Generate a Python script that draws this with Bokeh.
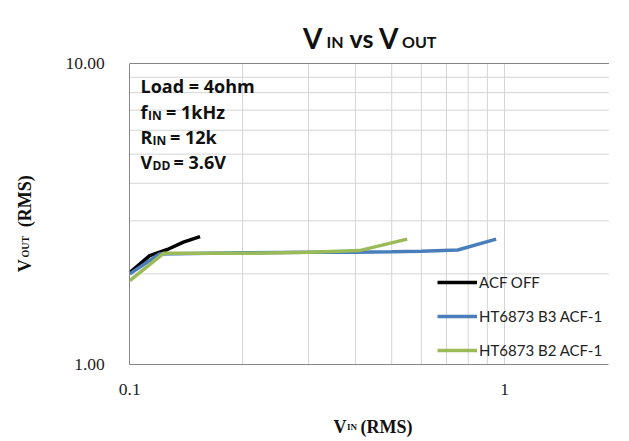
from bokeh.plotting import figure
from bokeh.models import (FixedTicker, CustomJSTickFormatter, Label, Legend, LegendItem)
from bokeh.embed import file_html
from bokeh.resources import INLINE
import math

# ---- data ----
acf_off_x = [0.100, 0.113, 0.126, 0.139, 0.154]
acf_off_y = [2.02, 2.30, 2.41, 2.55, 2.66]

b3_x = [0.100, 0.120, 0.200, 0.300, 0.400, 0.500, 0.600, 0.750, 0.950]
b3_y = [2.00, 2.33, 2.35, 2.36, 2.36, 2.37, 2.38, 2.40, 2.61]

b2_x = [0.100, 0.123, 0.200, 0.300, 0.410, 0.550]
b2_y = [1.90, 2.34, 2.34, 2.36, 2.39, 2.61]

series_names = ["ACF OFF", "HT6873 B3 ACF-1", "HT6873 B2 ACF-1"]
series_colors = ["#000000", "#4A7EBB", "#9BBB59"]

x_min, x_max = 0.1, 1.9
y_min, y_max = 1.0, 10.0
x_major = [0.1, 1.0]
x_grid = [0.2, 0.3, 0.4, 0.5, 0.6, 0.7, 0.8, 0.9, 1.0]
y_major = [1.0, 10.0]
y_grid = [2, 3, 4, 5, 6, 7, 8, 9]

W, H = 629, 441
# plot area in canvas pixels: x=0.1 at 129.3, one decade = 374.7 px; y=1 at 364, y=10 at 63
PX0, DEC_X = 129.3, 374.7
PY1, DEC_Y = 364.0, 301.0
xr = (10 ** (math.log10(x_min) - PX0 / DEC_X), 10 ** (math.log10(x_min) + (W - PX0) / DEC_X))
yr = (10 ** (-(H - PY1) / DEC_Y), 10 ** (PY1 / DEC_Y))

p = figure(x_axis_type="log", y_axis_type="log",
           x_range=xr, y_range=yr,
           width=W, height=H, min_border=0,
           output_backend="svg", toolbar_location=None,
           background_fill_color="white", border_fill_color="white")
p.outline_line_color = None
p.grid.visible = False

# axes: drawn by the library at fixed locations inside the frame
xa, ya = p.xaxis[0], p.yaxis[0]
xa.fixed_location = y_min
xa.bounds = (x_min, x_max)
ya.fixed_location = x_min
ya.bounds = (y_min, y_max)
for ax in (xa, ya):
    ax.axis_line_color = "#868686"
    ax.axis_line_width = 1
    ax.major_tick_line_color = None
    ax.minor_tick_line_color = None
    ax.major_label_text_font = "Liberation Serif"
    ax.major_label_text_font_size = "17.5px"
    ax.major_label_text_color = "#222222"
xa.major_label_standoff = 13
ya.major_label_standoff = 19

xa.ticker = FixedTicker(ticks=x_major)
ya.ticker = FixedTicker(ticks=y_major)
xa.formatter = CustomJSTickFormatter(code="return tick >= 1 ? tick.toFixed(0) : tick.toFixed(1);")
ya.formatter = CustomJSTickFormatter(code="return tick.toFixed(2);")

# grid lines from the tick values
p.segment(x0=x_grid, y0=[y_min] * len(x_grid), x1=x_grid, y1=[y_max] * len(x_grid),
          line_color="#D4D4D4", line_width=1)
p.segment(x0=[x_min] * len(y_grid), y0=y_grid, x1=[x_max] * len(y_grid), y1=y_grid,
          line_color="#D4D4D4", line_width=1)
p.segment(x0=[x_min], y0=[y_max], x1=[x_max], y1=[y_max], line_color="#868686", line_width=1)

# series
r1 = p.line(acf_off_x, acf_off_y, line_color=series_colors[0], line_width=3.5)
r2 = p.line(b3_x, b3_y, line_color=series_colors[1], line_width=3.5)
r3 = p.line(b2_x, b2_y, line_color=series_colors[2], line_width=3.5)

legend = Legend(items=[LegendItem(label=series_names[0], renderers=[r1]),
                       LegendItem(label=series_names[1], renderers=[r2]),
                       LegendItem(label=series_names[2], renderers=[r3])],
                location=(437, H - 360), orientation="vertical",
                padding=0, margin=0, spacing=14,
                glyph_width=40, glyph_height=20, label_height=20,
                label_standoff=2,
                label_text_font="Lato", label_text_font_size="15px",
                label_text_color="#222222",
                border_line_alpha=0, background_fill_alpha=0)
p.add_layout(legend)

DY = 7  # compensation for where the alphabetic baseline lands


def add_text(text, xm, ym, size, font="Lato", bold=True, rotated=False):
    if rotated:
        x, y, angle = xm - DY, H - ym, math.pi / 2
    else:
        x, y, angle = xm, H - (ym - DY), 0.0
    p.add_layout(Label(x=x, y=y, x_units="screen", y_units="screen",
                       text=text, text_font=font, text_font_size=f"{size}px",
                       text_font_style="bold" if bold else "normal",
                       text_color="#111111", text_baseline="alphabetic",
                       text_align="left", angle=angle))


# title  V_IN vs V_OUT
add_text("V", 302.5, 44.5, 28)
add_text("IN", 326, 47.5, 16)
add_text("vs", 349, 44.5, 25)
add_text("V", 378.6, 44.5, 28)
add_text("OUT", 401.5, 47.5, 16)

# condition block
OS = "Open Sans"
add_text("Load = 4ohm", 140, 92, 18, font=OS)
add_text("f", 140, 118, 18, font=OS)
add_text("IN", 147.5, 121.5, 12, font=OS)
add_text("= 1kHz", 165.5, 118, 18, font=OS)
add_text("R", 140, 143, 18, font=OS)
add_text("IN", 152, 146.5, 12, font=OS)
add_text("= 12k", 169.5, 143, 18, font=OS)
add_text("V", 140, 168, 18, font=OS)
add_text("DD", 152, 171.5, 12, font=OS)
add_text("= 3.6V", 173, 168, 18, font=OS)

# x axis label  V_IN (RMS)
add_text("V", 333, 433, 18, font="Liberation Serif")
add_text("IN", 346.5, 433, 9, font="Liberation Serif")
add_text("(RMS)", 360, 433, 18, font="Liberation Serif")

# y axis label  V_OUT (RMS), rotated
add_text("V", 31.5, 271.7, 18, font="Liberation Serif", rotated=True)
add_text("OUT", 31.5, 257, 10, font="Liberation Serif", rotated=True)
add_text("(RMS)", 31.5, 226.7, 18, font="Liberation Serif", rotated=True)

open("out.html", "w").write(file_html(p, INLINE))
